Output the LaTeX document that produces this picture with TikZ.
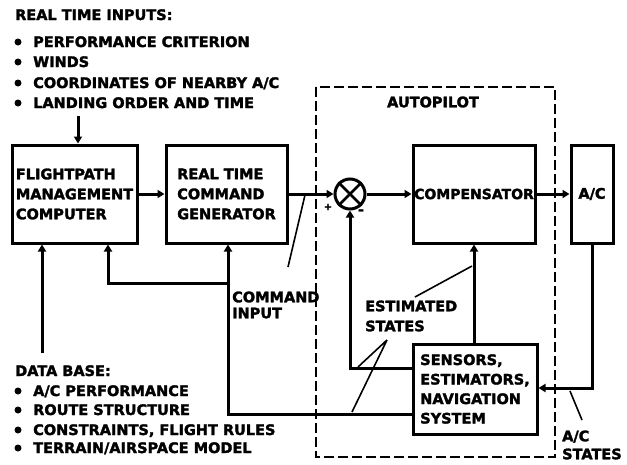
\documentclass[tikz,border=0pt]{standalone}
\usepackage{fontspec}
\setmainfont{DejaVu Sans}[BoldFeatures={FakeBold=2}]
\usetikzlibrary{arrows.meta}
\tikzset{
  lab/.style={font=\bfseries\fontsize{14.5}{20}\selectfont, inner sep=0pt},
  box/.style={draw, line width=3pt, lab, align=left},
  wire/.style={line width=3pt},
  arr/.style={wire, -{Triangle[length=7pt,width=8pt]}},
  ptr/.style={line width=1.6pt},
  dot/.style={circle, fill, inner sep=0pt, minimum size=7pt},
  dashbox/.style={draw, line width=2.6pt, dash pattern=on 10pt off 4pt}
}
\begin{document}
\begin{tikzpicture}[x=1pt,y=-1pt]
\useasboundingbox (0,0) rectangle (627,464);

% real time inputs
\node[lab, anchor=base west] (rti) at (15,20) {REAL TIME INPUTS:};
\node[dot] (rb1) at (18,42) {};
\node[dot] (rb2) at (18,62) {};
\node[dot] (rb3) at (18,83) {};
\node[dot] (rb4) at (18,103) {};
\node[lab, anchor=base west] (r1) at (33,47) {PERFORMANCE CRITERION};
\node[lab, anchor=base west] (r2) at (33,67) {WINDS};
\node[lab, anchor=base west] (r3) at (33,88) {COORDINATES OF NEARBY A/C};
\node[lab, anchor=base west] (r4) at (33,108) {LANDING ORDER AND TIME};
\coordinate (rtiend) at (78,116);

% data base
\node[lab, anchor=base west] (db) at (15,376) {DATA BASE:};
\node[dot] (db1) at (18,391) {};
\node[dot] (db2) at (18,410) {};
\node[dot] (db3) at (18,430) {};
\node[dot] (db4) at (18,448) {};
\node[lab, anchor=base west] (d1) at (33,396) {A/C PERFORMANCE};
\node[lab, anchor=base west] (d2) at (33,415) {ROUTE STRUCTURE};
\node[lab, anchor=base west] (d3) at (33,435) {CONSTRAINTS, FLIGHT RULES};
\node[lab, anchor=base west] (d4) at (33,453) {TERRAIN/AIRSPACE MODEL};
\coordinate (dbend) at (42,353);

% autopilot frame
\draw[dashbox] (316,87) rectangle (555,457);
\node[lab] (aplab) at (433,102) {AUTOPILOT};

% boxes
\node[box, minimum width=125pt, minimum height=98pt] (fmc) at (74.5,194) {FLIGHTPATH\\MANAGEMENT\\COMPUTER};
\node[box, minimum width=121pt, minimum height=98pt] (rtcg) at (226.5,194) {REAL TIME\\COMMAND\\GENERATOR};
\node[draw, line width=3pt, circle, minimum size=30pt, inner sep=0pt] (sum) at (350,194) {};
\draw[line width=2.6pt] (sum.north west) -- (sum.south east) (sum.north east) -- (sum.south west);
\node[box, minimum width=122pt, minimum height=98pt, font=\bfseries\fontsize{14}{20}\selectfont] (comp) at (474,194) {COMPENSATOR};
\node[box, minimum width=42pt, minimum height=98pt] (ac) at (592,194) {A/C};
\node[box, minimum width=124pt, minimum height=90pt] (sens) at (475,389) {SENSORS,\\[-0.5pt]ESTIMATORS,\\[-0.5pt]NAVIGATION\\[-0.5pt]SYSTEM};

\node[lab, font=\bfseries\fontsize{10}{10}\selectfont] (plus) at (328,207) {+};
\node[lab] (minus) at (361,212) {-};

% signal flow
\draw[arr] (rtiend) -- (rtiend |- fmc.north);
\draw[arr] (fmc.east) -- (rtcg.west);
\draw[arr] (rtcg.east) -- (sum.west);
\draw[arr] (sum.east) -- (comp.west);
\draw[arr] (comp.east) -- (ac.west);
\coordinate (acc) at (592,388);
\draw[arr] (ac.south) -- (acc) -- (acc -| sens.east);
\draw[arr] (comp.south |- sens.north) -- (comp.south);
\coordinate (fbc) at (350,368);
\draw[arr] (fbc -| sens.west) -- (fbc) -- (sum.south);
\coordinate (lowc) at (228,414);
\draw[arr] (lowc -| sens.west) -- (lowc) -- (lowc |- rtcg.south);
\coordinate (jn) at (228,283);
\coordinate (jl) at (108,283);
\draw[arr] (jn) -- (jl) -- (jl |- fmc.south);
\draw[arr] (dbend) -- (dbend |- fmc.south);

% labels with pointers
\node[lab, align=left, anchor=west] (cmd) at (232,305) {COMMAND\\[-4pt]INPUT};
\coordinate (cp1) at (288,267);
\coordinate (cp2) at (305,195);
\draw[ptr] (cp1) -- (cp2);

\node[lab, align=left, anchor=west] (est) at (365,316) {ESTIMATED\\STATES};
\coordinate (ep1) at (415,297);
\coordinate (ep2) at (472,266);
\draw[ptr] (ep1) -- (ep2);
\coordinate (ep3) at (387,340);
\coordinate (ep4) at (358,367);
\coordinate (ep5) at (352,412);
\draw[ptr] (ep3) -- (ep4) (ep3) -- (ep5);

\node[lab, align=left, anchor=west] (acs) at (562,445) {A/C\\[-2pt]STATES};
\coordinate (ap1) at (582,420);
\coordinate (ap2) at (570,391);
\draw[ptr] (ap1) -- (ap2);
\end{tikzpicture}
\end{document}
